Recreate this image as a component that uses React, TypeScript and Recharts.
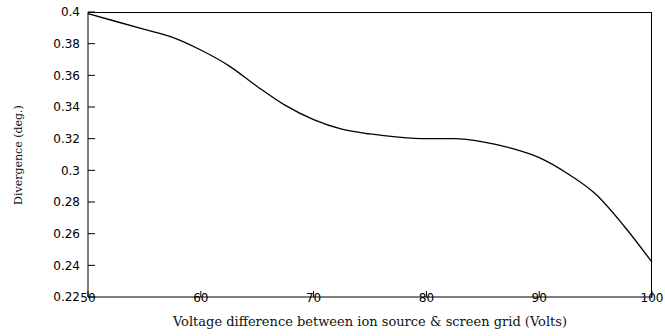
import { LineChart, Line, XAxis, YAxis } from 'recharts'

// Voltage difference (V) and divergence (deg.)
const VOLTAGE = [50, 52.5, 55, 57.5, 60, 62.5, 65, 67.5, 70, 72.5, 75, 77.5, 80, 82.5, 85, 87.5, 90, 92.5, 95, 97.5, 100]
const DIVERGENCE = [
  0.399, 0.394, 0.389, 0.384, 0.376, 0.366, 0.353, 0.341, 0.332, 0.326, 0.323,
  0.321, 0.32, 0.32, 0.318, 0.314, 0.308, 0.298, 0.285, 0.265, 0.242,
]

const X_TICKS = [50, 60, 70, 80, 90, 100]

const X_TITLE = 'Voltage difference between ion source & screen grid (Volts)'
const Y_TITLE = 'Divergence (deg.)'

const data = VOLTAGE.map((v, i) => ({ v, d: DIVERGENCE[i] }))

export default function App() {
  return (
    <div
      style={{
        position: 'fixed',
        left: 0,
        top: 0,
        width: 665,
        height: 336,
        background: '#fff',
        fontFamily: 'DejaVu Sans',
        fontSize: 12,
      }}
    >
      <LineChart
        width={665}
        height={336}
        data={data}
        margin={{ top: 12, right: 13, bottom: 0, left: 0 }}
      >
        <XAxis
          dataKey="v"
          type="number"
          domain={[50, 100]}
          ticks={X_TICKS}
          height={39}
          stroke="#000"
          tickSize={-6}
        />
        <YAxis
          type="number"
          domain={[0.22, 0.4]}
          tickCount={10}
          width={88}
          stroke="#000"
          tickSize={-7}
          tickMargin={15}
        />
        <Line
          dataKey="d"
          type="monotone"
          stroke="#000"
          strokeWidth={1.3}
          dot={false}
          isAnimationActive={false}
        />
      </LineChart>
      {/* top and right frame edges */}
      <div
        style={{
          position: 'absolute',
          left: 88,
          top: 12,
          width: 563,
          height: 285,
          borderTop: '1px solid #000',
          borderRight: '1.5px solid #000',
          pointerEvents: 'none',
        }}
      />
      <div
        style={{
          position: 'absolute',
          left: 88,
          top: 315,
          width: 564,
          textAlign: 'center',
          fontFamily: 'DejaVu Serif',
          fontSize: 13,
          lineHeight: '13px',
          color: '#111',
          whiteSpace: 'nowrap',
        }}
      >
        {X_TITLE}
      </div>
      <div
        style={{
          position: 'absolute',
          left: 18,
          top: 155,
          transform: 'translate(-50%, -50%) rotate(-90deg)',
          fontFamily: 'DejaVu Serif',
          fontSize: 11,
          lineHeight: '11px',
          color: '#111',
          whiteSpace: 'nowrap',
        }}
      >
        {Y_TITLE}
      </div>
    </div>
  )
}
